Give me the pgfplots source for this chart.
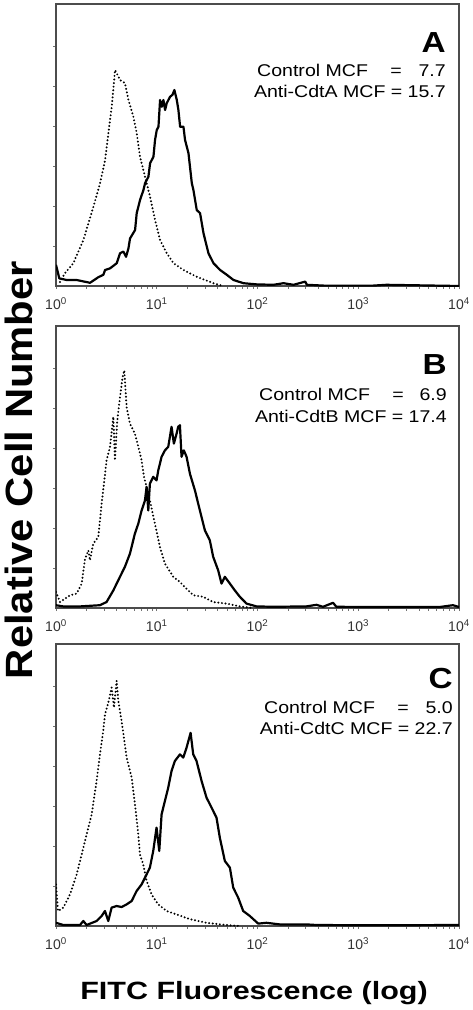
\documentclass[border=0pt]{standalone}
\usepackage{pgfplots}
\pgfplotsset{compat=1.18}
\usepackage{pgfplotstable}
\usepackage{fontspec}
\setmainfont{Liberation Sans}
\newfontfamily\panelfont[FakeStretch=1.15]{Liberation Sans}
\newfontfamily\xlabfont[FakeStretch=1.22]{Liberation Sans}
\newfontfamily\ylabfont[FakeStretch=1.1]{Liberation Sans}

% x = log10(FITC fluorescence), y = relative cell number (tick units)
\pgfplotstableread{
lx y
0.04 0.10
0.089 0.32
0.172 0.57
0.272 1.15
0.371 1.98
0.437 2.57
0.487 3.15
0.52 3.82
0.553 4.48
0.586 5.40
0.636 5.15
0.685 5.07
0.719 4.65
0.768 4.23
0.801 3.82
0.834 3.23
0.884 2.73
0.934 2.23
0.983 1.65
1.033 1.15
1.099 0.82
1.166 0.57
1.265 0.40
1.397 0.23
1.563 0.07
1.66 0.00
}\ctrlA
\pgfplotstableread{
lx y
0.0 0.53
0.033 0.19
0.106 0.15
0.205 0.15
0.338 0.08
0.42 0.22
0.47 0.28
0.487 0.40
0.536 0.44
0.603 0.57
0.636 0.82
0.669 0.86
0.695 0.73
0.719 0.94
0.735 1.19
0.785 1.40
0.801 1.82
0.834 2.15
0.868 2.40
0.884 2.57
0.917 2.73
0.934 3.07
0.967 3.23
0.983 3.65
1.0 3.90
1.017 3.98
1.033 4.65
1.05 4.48
1.066 4.65
1.083 4.40
1.099 4.57
1.132 4.73
1.156 4.78
1.175 4.90
1.199 4.65
1.215 4.40
1.232 3.98
1.265 3.98
1.281 3.65
1.315 3.32
1.348 2.57
1.364 2.40
1.397 1.90
1.43 1.82
1.464 1.32
1.513 0.82
1.563 0.57
1.629 0.40
1.695 0.28
1.762 0.15
1.861 0.07
1.993 0.04
2.159 0.03
2.258 0.07
2.358 0.03
2.474 0.11
2.49 0.03
2.656 0.01
3.15 0.01
3.28 0.03
4.0 0.00
}\antiA
\pgfplotstableread{
lx y
0.0 0.40
0.04 0.15
0.14 0.32
0.205 0.36
0.255 0.61
0.288 1.23
0.321 1.44
0.337 1.19
0.37 1.61
0.42 1.78
0.453 2.61
0.502 3.69
0.536 4.03
0.569 4.78
0.585 3.69
0.608 4.69
0.635 5.27
0.661 5.78
0.678 5.94
0.701 5.02
0.734 4.61
0.783 4.36
0.817 4.03
0.85 3.69
0.873 3.28
0.899 3.03
0.932 2.69
0.982 2.11
1.031 1.53
1.081 1.11
1.164 0.78
1.23 0.65
1.296 0.48
1.362 0.32
1.461 0.28
1.56 0.15
1.693 0.11
1.825 0.04
1.957 0.00
}\ctrlB
\pgfplotstableread{
lx y
0.0 0.07
0.07 0.04
0.24 0.04
0.436 0.07
0.502 0.15
0.569 0.44
0.635 0.78
0.684 1.03
0.734 1.36
0.783 1.86
0.817 2.11
0.85 2.44
0.883 2.69
0.899 3.03
0.916 2.44
0.932 3.11
0.965 3.28
0.998 3.19
1.015 3.44
1.048 3.78
1.081 3.94
1.114 4.03
1.147 4.53
1.17 4.11
1.197 4.36
1.213 4.53
1.23 4.57
1.246 3.78
1.269 3.94
1.296 3.78
1.329 3.36
1.379 2.94
1.428 2.44
1.478 1.94
1.527 1.69
1.56 1.28
1.61 0.94
1.643 0.61
1.676 0.78
1.726 0.61
1.775 0.44
1.825 0.28
1.891 0.11
1.99 0.04
2.155 0.03
2.486 0.04
2.585 0.08
2.65 0.03
2.75 0.13
2.783 0.03
3.147 0.025
3.808 0.025
3.94 0.07
4.0 0.025
}\antiB
\pgfplotstableread{
lx y
0.0 1.04
0.02 0.375
0.073 0.46
0.139 0.79
0.205 1.29
0.255 1.79
0.304 2.29
0.354 2.79
0.403 3.63
0.436 4.29
0.469 4.88
0.486 5.29
0.519 5.58
0.552 5.96
0.575 5.46
0.602 6.13
0.618 5.63
0.651 5.13
0.701 4.21
0.751 3.71
0.784 3.04
0.817 2.29
0.833 1.79
0.866 1.54
0.899 1.13
0.949 0.79
1.015 0.54
1.098 0.375
1.197 0.29
1.329 0.17
1.494 0.08
1.693 0.025
1.825 0.00
}\ctrlC
\pgfplotstableread{
lx y
0.0 0.08
0.073 0.025
0.238 0.025
0.271 0.125
0.304 0.025
0.403 0.125
0.453 0.25
0.486 0.375
0.519 0.125
0.552 0.46
0.602 0.50
0.651 0.475
0.701 0.54
0.751 0.625
0.80 0.875
0.85 1.04
0.899 1.29
0.932 1.46
0.965 1.875
0.998 2.46
1.025 1.875
1.048 2.79
1.081 3.125
1.114 3.46
1.147 3.875
1.18 4.125
1.23 4.29
1.263 4.21
1.296 4.46
1.336 4.83
1.362 4.29
1.395 4.125
1.445 3.625
1.494 3.21
1.544 2.96
1.593 2.71
1.626 2.21
1.676 1.625
1.726 1.46
1.759 0.96
1.808 0.71
1.858 0.375
1.924 0.25
2.007 0.06
2.089 0.08
2.221 0.04
2.486 0.04
2.585 0.025
3.147 0.017
4.0 0.025
}\antiC

\pgfplotsset{
  panel/.style={
    width=403pt, height=282pt, scale only axis,
    xmin=0, xmax=4, ymin=0, ymax=7.05,
    axis line style={draw=black!70, line width=1.2pt},
    xtick={0,1,2,3,4},
    xticklabels={10\textsuperscript{0},10\textsuperscript{1},10\textsuperscript{2},10\textsuperscript{3},10\textsuperscript{4}},
    minor xtick={0.301,0.477,0.602,0.699,0.778,0.845,0.903,0.954,
                 1.301,1.477,1.602,1.699,1.778,1.845,1.903,1.954,
                 2.301,2.477,2.602,2.699,2.778,2.845,2.903,2.954,
                 3.301,3.477,3.602,3.699,3.778,3.845,3.903,3.954},
    ytick={1,2,3,4,5,6}, yticklabels={},
    xtick pos=left, ytick pos=left,
    tick align=outside,
    major tick length=3pt, minor tick length=2.5pt,
    tick style={draw=black!55, line width=0.6pt},
    tick label style={font=\fontsize{14}{16}\selectfont, text=black!80},
    xticklabel style={yshift=-5pt},
    clip=true,
  },
  ctrl/.style={black, line width=2.2pt, dash pattern=on 0pt off 3.6pt, line cap=round, line join=round},
  anti/.style={black, line width=2.2pt, line join=round},
}

\newcommand{\paneltext}[9]{%
  % #1 letter, #2 letter baseline y, #3 right x, #4 line1 y, #5 control left x,
  % #6 equals x, #7 control value, #8 line2 y, #9 line2 text
  \node[anchor=base east, inner sep=0pt, font=\panelfont\bfseries\fontsize{29}{30}\selectfont] at (#3pt,-#2pt) {#1};
  \node[anchor=base west, inner sep=0pt, font=\panelfont\fontsize{17}{20}\selectfont] at (#5pt,-#4pt) {Control MCF};
  \node[anchor=base, inner sep=0pt, font=\panelfont\fontsize{17}{20}\selectfont] at (#6pt,-#4pt) {=};
  \node[anchor=base east, inner sep=0pt, font=\panelfont\fontsize{17}{20}\selectfont] at (#3pt,-#4pt) {#7};
  \node[anchor=base east, inner sep=0pt, font=\panelfont\fontsize{17}{20}\selectfont] at (#3pt,-#8pt) {#9};
}

\begin{document}
\begin{tikzpicture}
\path[use as bounding box] (0,0) rectangle (473pt,-1010pt);

\begin{axis}[panel, at={(56pt,-4pt)}, anchor=north west]
  \addplot[ctrl] table[x=lx,y=y] {\ctrlA};
  \addplot[anti] table[x=lx,y=y] {\antiA};
\end{axis}
\begin{axis}[panel, at={(56pt,-326pt)}, anchor=north west]
  \addplot[ctrl] table[x=lx,y=y] {\ctrlB};
  \addplot[anti] table[x=lx,y=y] {\antiB};
\end{axis}
\begin{axis}[panel, at={(56pt,-644pt)}, anchor=north west]
  \addplot[ctrl] table[x=lx,y=y] {\ctrlC};
  \addplot[anti] table[x=lx,y=y] {\antiC};
\end{axis}

\paneltext{A}{52}{446}{76}{257}{396}{7.7}{97}{Anti-CdtA MCF = 15.7}
\paneltext{B}{374}{447}{400}{259}{398}{6.9}{422}{Anti-CdtB MCF = 17.4}
\paneltext{C}{688}{453}{713}{264}{403}{5.0}{734}{Anti-CdtC MCF = 22.7}

\node[anchor=base, inner sep=0pt, font=\xlabfont\bfseries\fontsize{25}{28}\selectfont] at (254pt,-999pt) {FITC Fluorescence (log)};
\node[anchor=base, rotate=90, inner sep=0pt, font=\ylabfont\bfseries\fontsize{38}{40}\selectfont] at (32pt,-470pt) {Relative Cell Number};
\end{tikzpicture}
\end{document}
